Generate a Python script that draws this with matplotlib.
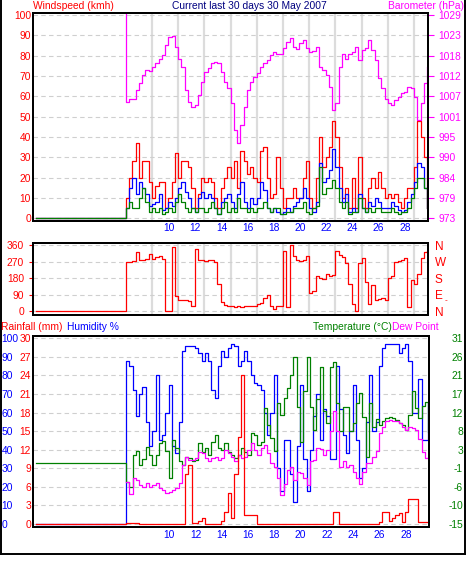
import numpy as np
import matplotlib
matplotlib.use('Agg')
import matplotlib.pyplot as plt
from matplotlib.lines import Line2D

plt.rcParams['font.family'] = ['Liberation Sans', 'DejaVu Sans']
plt.rcParams['font.size'] = 7.4

# ---- data, one sample every 6 hours, first value = level before logging started
pre_day = -0.15
sample_days = np.arange(6.7, 29.75, 0.25)
days = np.concatenate([[pre_day], sample_days])

wind_gust = [0,
    10, 20, 28, 37, 20, 28, 28, 18, 10, 16,
    18, 18, 5, 10, 18, 32, 20, 28, 28, 25,
    15, 5, 12, 20, 18, 20, 18, 10, 5, 15,
    20, 25, 20, 28, 15, 33, 28, 22, 25, 20,
    18, 33, 35, 20, 10, 12, 30, 15, 5, 10,
    10, 15, 10, 10, 20, 28, 10, 5, 20, 40,
    25, 30, 35, 48, 40, 25, 10, 15, 5, 20,
    5, 30, 10, 5, 15, 20, 15, 23, 15, 10,
    12, 10, 12, 8, 5, 10, 15, 15, 25, 48,
    40, 30, 5]
wind_avg = [0,
    5, 15, 20, 12, 18, 15, 12, 6, 7, 8,
    12, 4, 5, 8, 6, 10, 15, 18, 13, 10,
    5, 3, 10, 13, 10, 12, 10, 5, 2, 8,
    10, 12, 8, 5, 12, 18, 8, 5, 10, 7,
    10, 18, 14, 5, 3, 5, 3, 2, 3, 5,
    3, 6, 8, 10, 15, 10, 5, 3, 8, 27,
    18, 20, 24, 34, 25, 15, 8, 12, 3, 5,
    3, 12, 5, 3, 8, 6, 10, 8, 5, 5,
    5, 8, 6, 4, 3, 4, 8, 12, 18, 27,
    25, 15, 5]
wind_low = [0,
    5, 8, 5, 5, 10, 15, 8, 3, 5, 3,
    5, 2, 3, 5, 3, 8, 12, 8, 5, 3,
    5, 3, 5, 5, 3, 5, 8, 5, 2, 5,
    8, 3, 5, 3, 10, 5, 5, 3, 5, 3,
    5, 5, 8, 5, 3, 5, 5, 2, 2, 3,
    3, 5, 5, 5, 8, 3, 2, 5, 6, 25,
    12, 15, 15, 19, 15, 8, 5, 8, 2, 3,
    3, 10, 5, 3, 5, 3, 5, 5, 3, 3,
    3, 5, 3, 2, 3, 3, 5, 10, 15, 20,
    20, 15, 5]
barometer = [1040,
    1005, 1006, 1006, 1008.3, 1010.2, 1012.5, 1013.9, 1013.7, 1014.8, 1015.7,
    1017, 1018, 1020.7, 1023, 1023.2, 1020.3, 1017, 1014.8, 1008.3, 1005.1,
    1003.8, 1004.2, 1007, 1010.6, 1013.4, 1014.3, 1015.7, 1016.1, 1015.7, 1013.4,
    1010.6, 1008.8, 1004.7, 997.3, 993.7, 998.7, 1003.8, 1008.3, 1010.6, 1012,
    1012.9, 1014.8, 1015.9, 1016.6, 1018, 1018.9, 1018.4, 1018.4, 1019.8, 1021.6,
    1022.8, 1020.3, 1019.6, 1021.2, 1022.1, 1019.8, 1018.9, 1019.2, 1020.3, 1014.8,
    1013.9, 1012.5, 1009.3, 1002.8, 1004.7, 1014.8, 1018.4, 1017, 1018.4, 1018.9,
    1020.3, 1016.6, 1019.4, 1019.8, 1022.1, 1019.4, 1016.6, 1011.6, 1008.8, 1006,
    1004.7, 1004.2, 1005.6, 1006.5, 1007.4, 1007.9, 1009.3, 1008.8, 1006.5, 1000.1,
    1004.7, 1010.2, 1014.8]
wind_dir = [0,
    265, 270, 275, 320, 280, 280, 285, 310, 285, 295,
    300, 285, 0, 0, 350, 80, 60, 60, 60, 55,
    30, 340, 280, 280, 275, 280, 280, 265, 150, 50,
    35, 30, 25, 20, 30, 20, 25, 30, 25, 30,
    40, 45, 70, 90, 30, 10, 30, 30, 330, 20,
    360, 300, 280, 275, 280, 300, 100, 110, 190, 180,
    175, 200, 190, 195, 330, 305, 295, 260, 150, 40,
    0, 260, 290, 160, 40, 140, 60, 65, 70, 60,
    180, 190, 270, 275, 280, 290, 20, 170, 150, 200,
    290, 320, 330]
humidity = [0,
    88, 85, 72, 58, 70, 74, 55, 42, 50, 80,
    45, 48, 60, 75, 42, 38, 55, 93, 96, 96,
    96, 95, 92, 88, 92, 88, 72, 68, 85, 93,
    90, 95, 97, 96, 85, 88, 93, 88, 80, 76,
    75, 72, 60, 48, 60, 80, 30, 18, 45, 45,
    27, 12, 42, 75, 35, 18, 40, 58, 70, 45,
    62, 58, 35, 35, 85, 62, 48, 38, 50, 75,
    45, 25, 30, 55, 80, 50, 55, 85, 95, 97,
    97, 97, 97, 92, 95, 97, 88, 60, 60, 78,
    45, 45, 65]
temperature = [0,
    -4.5, -5.8, 2, 3, -0.5, 1, 4, 2, -0.5, 2,
    5, 5.5, 3, -3.7, 5.8, 3.8, 0.5, -0.4, 1.7, 1.3,
    0.5, 0.9, 5, 2.9, 3.8, 2.1, 5.4, 7, 3.8, 3.4,
    5, 2.9, 2.1, 1.3, 2.1, 3.8, 2.9, 2.1, 7.5, 7,
    4.6, 5.4, 13.7, 9.5, 6.2, 3, 14.9, 12, 16.1, 18.6,
    21.9, 26.4, 14, 5.4, 18, 26.4, 14, 8.3, 16, 24,
    13, 10, 24, 25, 14.9, 8, 14, 14, 8, 10,
    15, 17.4, 11.6, 1.5, 14.9, 9, 11, 9.5, 10.4, 11.2,
    11.6, 11.2, 10.8, 10, 9.5, 8.3, 12, 18, 13.7, 11.2,
    14.1, 15.3, 7.9]
dew_point = [np.nan,
    -4.5, -7.5, -3.7, -4.1, -5.3, -5.8, -4.9, -5.8, -5.3, -4.9,
    -6.2, -6.6, -7.4, -7, -6.6, -6.2, -4.9, -0.5, 1.7, 0.9,
    0.9, 1.3, 2.9, 2.5, 1.3, 0.5, 1.3, 1.7, 0.9, 1.3,
    3.4, 2.5, 1.7, 0.5, 2.1, 1.3, 1.7, 3.4, 5, 3.4,
    2.1, 3.8, 4.6, 2.5, 0, -1, -3.7, -7.8, -5, -1.6,
    -0.8, -4.1, -2, -2.4, -3.7, -5.3, 0.5, 0.9, 3.8, 3.5,
    2.1, 3.4, 8, 13, 8, -1, 0.5, -1, -0.4, -2,
    -3.5, -5, -2, 0, 0, 1.5, 3, 7.5, 9, 10.4,
    10.8, 10.4, 10.5, 10, 9.1, 8.3, 9.1, 8.7, 8.3, 6,
    2.9, 1.3, 1.7]
rainfall = [0,
    0.2, 0.2, 0.2, 0.2, 0, 0, 0, 0, 0, 0,
    0, 0, 0, 0, 0, 0, 0, 0, 8, 9.5,
    0.2, 0.2, 0.5, 1, 0, 0, 0, 0, 0, 0.5,
    2, 5, 1, 8, 14, 24, 1.5, 1.5, 1.5, 1.5,
    0, 0, 0, 0, 0, 0, 0, 0, 0, 0,
    0, 0, 0, 0, 0, 0, 0, 0, 0, 0,
    0, 0, 0, 2, 2, 0, 0, 0, 0, 0,
    0, 0, 0, 0, 0, 0, 0, 0.3, 2, 2,
    0.5, 1, 1.5, 1.8, 0.3, 2, 4, 4, 4, 0.3,
    0.3, 0.3, 0.3]

day_ticks = [10, 12, 14, 16, 18, 20, 22, 24, 26, 28]
midnight_days = [8.7, 10.7, 12.7, 14.7, 16.7, 18.7, 20.7, 22.7, 24.7, 26.7, 28.7]
baro_labels = ['973', '979', '984', '990', '995', '1001', '1007', '1012', '1018', '1023', '1029']
temp_labels = ['-15', '-10', '-6', '-1', '3', '8', '12', '17', '21', '26', '31']
dir_labels = ['N', 'E', 'S', 'W', 'N']

RED, BLUE, GREEN, MAG, NAVY = '#ff0000', '#0000ff', '#008000', '#ff00ff', '#000080'
GRID = '#cfcfcf'

W, H = 466, 563
fig = plt.figure(figsize=(W / 100, H / 100), dpi=100)


def box(l, t, r, b):
    return [l / W, 1 - b / H, (r - l) / W, (b - t) / H]


def frame(ax):
    for s in ax.spines.values():
        s.set_linewidth(1.4)
        s.set_color('black')


XLIM = (-0.38, 29.77)

# ---- top: wind speed + barometer
ax1 = fig.add_axes(box(33, 13, 428, 221))
ax1.set_xlim(*XLIM)
ax1.set_ylim(-1.33, 101)
for d in midnight_days:
    ax1.axvline(d, color='#dcdcdc', lw=1.6, zorder=0)
ax1.set_yticks(range(0, 101, 10))
ax1.yaxis.grid(True, color=GRID, ls=(0, (4, 3)), lw=0.8)
ax1.set_axisbelow(True)
ax1.plot(days, wind_gust, drawstyle='steps-post', color=RED, lw=0.9)
ax1.plot(days, wind_avg, drawstyle='steps-post', color=BLUE, lw=0.9)
ax1.plot(days, wind_low, drawstyle='steps-post', color=GREEN, lw=0.9)
ax1.set_xticks(day_ticks)
ax1.tick_params(axis='x', length=0, pad=1.5, labelcolor=BLUE)
ax1.tick_params(axis='y', length=0, pad=1.5, labelcolor=RED)
frame(ax1)

axb = ax1.twinx()
axb.set_ylim(973 - 0.56 * 1.33, 973 + 0.56 * 101)
axb.plot(days, barometer, drawstyle='steps-post', color=MAG, lw=0.9)
axb.set_yticks([973 + 5.6 * k for k in range(11)])
axb.set_yticklabels(baro_labels)
axb.tick_params(axis='y', length=4.5, width=0.8, pad=3, color=MAG, labelcolor=MAG)
frame(axb)

# ---- middle: wind direction
ax2 = fig.add_axes(box(33, 243, 428, 315))
ax2.set_xlim(*XLIM)
ax2.set_ylim(-21.8, 371)
for d in midnight_days:
    ax2.axvline(d, color='#dcdcdc', lw=1.6, zorder=0)
ax2.set_yticks(range(0, 361, 90))
ax2.yaxis.grid(True, color=GRID, ls=(0, (4, 3)), lw=0.8)
ax2.set_axisbelow(True)
ax2.plot(days, wind_dir, drawstyle='steps-post', color=RED, lw=0.9)
ax2.set_xticks([])
ax2.tick_params(axis='y', length=3, width=0.8, pad=3.5, color=RED, labelcolor=RED)
frame(ax2)

ax2r = ax2.twinx()
ax2r.set_ylim(ax2.get_ylim())
ax2r.set_yticks(range(0, 361, 90))
ax2r.set_yticklabels(dir_labels)
ax2r.tick_params(axis='y', length=0, pad=5, labelcolor=RED, labelsize=8.5)
frame(ax2r)
fig.text(446 / W, 1 - 301 / H, '-', color=RED, fontsize=6, ha='center', va='center')

# ---- bottom: humidity, temperature, dew point, rainfall
HLIM = (-1.6, 101.2)
ax3 = fig.add_axes(box(33, 336, 429, 527))
ax3.set_xlim(*XLIM)
ax3.set_ylim(*HLIM)
ax3.set_yticks(range(0, 101, 10))
ax3.yaxis.grid(True, color=GRID, ls=(0, (4, 3)), lw=0.8)
ax3.set_axisbelow(True)
ax3.plot(days, humidity, drawstyle='steps-post', color=BLUE, lw=0.9)
ax3.set_xticks(day_ticks)
ax3.tick_params(axis='x', length=0, pad=2, labelcolor=BLUE)
ax3.tick_params(axis='y', length=0, pad=22.5, labelcolor=BLUE)
for lab in ax3.get_yticklabels():
    lab.set_horizontalalignment('left')
frame(ax3)

ax3t = ax3.twinx()
ax3t.set_ylim(-15 + 0.46 * HLIM[0], -15 + 0.46 * HLIM[1])
ax3t.plot(days, temperature, drawstyle='steps-post', color=GREEN, lw=0.9)
ax3t.plot(days, dew_point, drawstyle='steps-post', color=MAG, lw=0.9)
ax3t.set_yticks([-15 + 4.6 * k for k in range(11)])
ax3t.set_yticklabels(temp_labels)
ax3t.tick_params(axis='y', length=0, pad=24.5, labelcolor=GREEN)
for lab in ax3t.get_yticklabels():
    lab.set_horizontalalignment('right')
frame(ax3t)

ax3r = ax3.twinx()
ax3r.set_ylim(0.3 * HLIM[0], 0.3 * HLIM[1])
ax3r.plot(days, rainfall, drawstyle='steps-post', color=RED, lw=0.9)
ax3r.yaxis.tick_left()
ax3r.set_yticks(range(0, 31, 3))
ax3r.tick_params(axis='y', length=0, pad=1.5, labelcolor=RED)
frame(ax3r)

# ---- headings
def px_text(x, y, s, color, ha='left'):
    fig.text(x / W, 1 - y / H, s, color=color, ha=ha, va='center')


px_text(33, 6, 'Windspeed (kmh)', RED)
px_text(249, 6, 'Current last 30 days 30 May 2007', NAVY, ha='center')
px_text(464, 6, 'Barometer (hPa)', MAG, ha='right')
px_text(1, 327, 'Rainfall (mm)', RED)
px_text(67, 327, 'Humidity %', BLUE)
px_text(313, 327, 'Temperature (°C)', GREEN)
px_text(392, 327, 'Dew Point', MAG)

# outer border (left, right, bottom)
for xs, ys in [([0.5, 0.5], [0, 554]), ([464.5, 464.5], [0, 554]), ([0, 465], [554, 554])]:
    fig.add_artist(Line2D([x / W for x in xs], [1 - y / H for y in ys],
                          color='black', lw=1.4, transform=fig.transFigure))

fig.savefig('out.png', dpi=100)
